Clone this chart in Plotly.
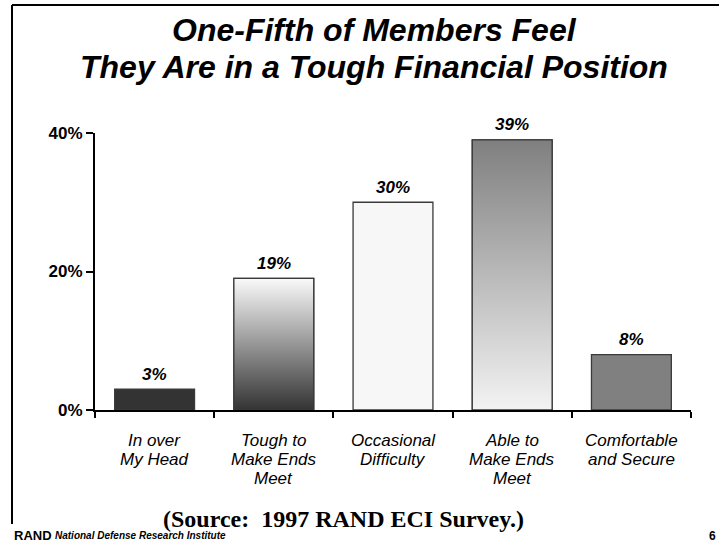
import plotly.graph_objects as go

# Survey results: share of members by self-reported financial position
categories = ["In over<br>My Head", "Tough to<br>Make Ends<br>Meet", "Occasional<br>Difficulty",
              "Able to<br>Make Ends<br>Meet", "Comfortable<br>and Secure"]
values = [3, 19, 30, 39, 8]
y_ticks = [0, 20, 40]
y_tick_text = ["0%", "20%", "40%"]

# Fill style per bar: solid colour, or (bottom colour, top colour) for a vertical gradient
fills = ["#333333", ("#333333", "#fafafa"), "#f7f7f7", ("#f3f3f3", "#7f7f7f"), "#808080"]

W, H = 719, 544
L, R, T, B = 95, 28, 133, 134
PW, PH = W - L - R, H - T - B
BAR_W = 0.67
SANS = "Liberation Sans, Arial, Helvetica, sans-serif"
SERIF = "Liberation Serif, Times New Roman, serif"


def px(x):
    return (x - L) / PW


def py(y):
    return (H - B - y) / PH


xs = list(range(len(values)))
solid = [f if isinstance(f, str) else f[1] for f in fills]

fig = go.Figure()
fig.add_trace(go.Bar(
    x=xs, y=values, width=BAR_W,
    marker=dict(color=solid, line=dict(color="#3a3a3a", width=1.3)),
    hoverinfo="skip",
))

# Gradient-filled bars drawn over the base bars
for i, (v, f) in enumerate(zip(values, fills)):
    if isinstance(f, str):
        continue
    x0, x1 = i - BAR_W / 2, i + BAR_W / 2
    fig.add_trace(go.Scatter(
        x=[x0, x1, x1, x0, x0], y=[0, 0, v, v, 0],
        mode="lines", fill="toself",
        line=dict(color="#3a3a3a", width=1.3),
        fillgradient=dict(type="vertical", colorscale=[[0, f[0]], [1, f[1]]], start=0, stop=v),
        hoverinfo="skip", showlegend=False,
    ))

annotations = []
# Value labels above each bar
for i, v in enumerate(values):
    annotations.append(dict(
        x=i, y=v, xref="x", yref="y", text=f"{v}%", showarrow=False,
        yanchor="middle", yshift=15,
        font=dict(family=SANS, size=17, color="black", weight="bold", style="italic"),
    ))
# Category labels under the axis, one line at a time
for i, c in enumerate(categories):
    for j, line in enumerate(c.split("<br>")):
        annotations.append(dict(
            x=i, y=0, xref="x", yref="y", text=line, showarrow=False,
            yanchor="middle", yshift=-(30 + 19 * j),
            font=dict(family=SANS, size=17, color="black", style="italic"),
        ))

title_font = dict(family=SANS, size=32, color="black", weight="bold", style="italic")
annotations += [
    dict(x=px(374), y=py(30), xref="paper", yref="paper", text="One-Fifth of Members Feel",
         showarrow=False, xanchor="center", yanchor="middle", font=title_font),
    dict(x=px(374), y=py(67), xref="paper", yref="paper", text="They Are in a Tough Financial Position",
         showarrow=False, xanchor="center", yanchor="middle", font=title_font),
    dict(x=px(343), y=py(519), xref="paper", yref="paper", text="(Source:  1997 RAND ECI Survey.)",
         showarrow=False, xanchor="center", yanchor="middle",
         font=dict(family=SERIF, size=24, color="black", weight="bold")),
    dict(x=px(12), y=py(535), xref="paper", yref="paper", text="RAND",
         showarrow=False, xanchor="left", yanchor="middle",
         font=dict(family=SANS, size=13, color="black", weight="bold")),
    dict(x=px(53), y=py(535), xref="paper", yref="paper", text="National Defense Research Institute",
         showarrow=False, xanchor="left", yanchor="middle",
         font=dict(family=SANS, size=10, color="black", weight="bold", style="italic")),
    dict(x=px(718), y=py(536), xref="paper", yref="paper", text="6",
         showarrow=False, xanchor="right", yanchor="middle",
         font=dict(family=SANS, size=12, color="black", weight="bold")),
]

# Slide frame: top and left rules
shapes = [
    dict(type="line", xref="paper", yref="paper", x0=px(12), y0=py(5), x1=px(W), y1=py(5),
         line=dict(color="black", width=2)),
    dict(type="line", xref="paper", yref="paper", x0=px(12), y0=py(5), x1=px(12), y1=py(524),
         line=dict(color="black", width=2)),
]

fig.update_layout(
    width=W, height=H,
    margin=dict(l=L, r=R, t=T, b=B, pad=0),
    paper_bgcolor="white", plot_bgcolor="white",
    showlegend=False,
    annotations=annotations, shapes=shapes,
    xaxis=dict(
        range=[-0.5, len(values) - 0.5],
        tickmode="array", tickvals=[i - 0.5 for i in range(len(values) + 1)],
        showticklabels=False, ticks="outside", ticklen=6, tickwidth=2, tickcolor="black",
        showline=True, linewidth=2, linecolor="black",
        showgrid=False, zeroline=False, fixedrange=True,
    ),
    yaxis=dict(
        range=[0, 40],
        tickmode="array", tickvals=y_ticks, ticktext=y_tick_text,
        ticks="outside", ticklen=7, tickwidth=2, tickcolor="black",
        tickfont=dict(family=SANS, size=17, color="black", weight="bold"),
        showline=True, linewidth=2, linecolor="black",
        showgrid=False, zeroline=False, fixedrange=True,
    ),
)

fig.write_html("out.html")
